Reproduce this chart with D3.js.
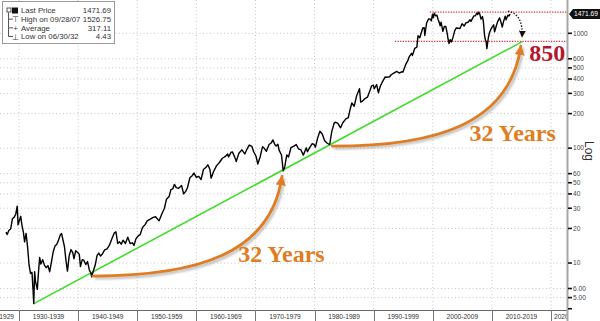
<!DOCTYPE html>
<html>
<head>
<meta charset="utf-8">
<script src="https://cdn.jsdelivr.net/npm/d3@7/dist/d3.min.js"></script>
<style>
  body { margin:0; background:#fff; }
  svg { display:block; }
</style>
</head>
<body>
<div id="chart"></div>
<script>
// S&P 500 monthly-ish closes (log scale)
const dates = [1927.8,1928.0,1928.3,1928.6,1928.9,1929.2,1929.45,1929.7,1929.85,1930.0,1930.3,1930.5,1930.75,1930.95,
  1931.2,1931.45,1931.7,1931.95,1932.2,1932.4,1932.5,1932.65,1932.8,1933.1,1933.3,1933.5,1933.7,1934.0,1934.3,1934.6,
  1934.9,1935.2,1935.5,1935.8,1936.1,1936.4,1936.7,1937.0,1937.2,1937.5,1937.7,1937.95,1938.2,1938.5,1938.8,1939.1,
  1939.3,1939.6,1939.9,1940.2,1940.4,1940.7,1940.95,1941.3,1941.6,1941.9,1942.15,1942.3,1942.6,1942.9,1943.2,1943.5,
  1943.8,1944.1,1944.5,1944.9,1945.3,1945.7,1946.1,1946.4,1946.7,1947.0,1947.3,1947.6,1948.0,1948.4,1948.8,1949.2,
  1949.45,1949.8,1950.2,1950.5,1950.9,1951.3,1951.7,1952.2,1952.7,1953.1,1953.7,1954.2,1954.6,1954.95,1955.4,1955.7,
  1956.0,1956.3,1956.6,1957.0,1957.5,1957.85,1958.2,1958.5,1958.9,1959.3,1959.6,1960.0,1960.4,1960.8,1961.2,1961.6,
  1961.95,1962.3,1962.5,1962.9,1963.4,1963.9,1964.4,1964.9,1965.3,1965.45,1965.9,1966.1,1966.5,1966.75,1967.2,1967.7,
  1968.2,1968.6,1968.95,1969.4,1969.7,1970.1,1970.4,1970.8,1971.2,1971.5,1971.85,1972.3,1972.7,1972.95,1973.3,1973.5,
  1973.8,1974.0,1974.4,1974.7,1974.95,1975.3,1975.6,1976.0,1976.5,1976.9,1977.3,1977.7,1978.1,1978.6,1978.8,1979.2,
  1979.6,1979.9,1980.15,1980.5,1980.9,1981.3,1981.7,1982.1,1982.55,1982.9,1983.3,1983.5,1983.9,1984.4,1984.8,1985.3,
  1985.7,1985.95,1986.3,1986.7,1987.1,1987.6,1987.8,1988.1,1988.6,1988.95,1989.4,1989.65,1989.95,1990.1,1990.5,1990.8,
  1991.1,1991.5,1991.95,1992.3,1992.7,1992.95,1993.4,1993.9,1994.3,1994.8,1994.95,1995.4,1995.8,1995.95,1996.4,1996.55,
  1996.95,1997.3,1997.5,1997.8,1997.95,1998.3,1998.55,1998.65,1998.95,1999.3,1999.6,1999.75,1999.95,2000.1,2000.25,
  2000.45,2000.7,2000.9,2001.1,2001.25,2001.4,2001.7,2001.95,2002.2,2002.45,2002.55,2002.75,2002.95,2003.15,2003.4,
  2003.7,2003.95,2004.3,2004.6,2004.95,2005.3,2005.6,2005.95,2006.3,2006.45,2006.95,2007.2,2007.45,2007.6,2007.75,
  2007.95,2008.15,2008.4,2008.55,2008.75,2008.85,2009.05,2009.15,2009.4,2009.6,2009.95,2010.3,2010.45,2010.7,2010.95,
  2011.3,2011.6,2011.75,2011.95,2012.25,2012.4,2012.7,2012.85,2012.95,2013.05]
const closes = [18.6,17.7,19.3,19.8,24.3,25.1,26.6,31.3,21.5,22.8,25.5,21.4,18.5,15.3,
  18.1,13.9,9.7,8.1,8.3,5.6,4.43,8.4,6.9,5.9,8.3,11.2,9.8,10.7,9.6,9.1,
  9.5,8.4,10.3,12.6,14.1,14.6,15.9,17.6,18.1,15.4,13.8,10.5,8.5,11.6,13.1,12.3,
  10.9,12.8,12.4,11.9,9.3,10.7,10.6,9.7,10.3,8.7,8.2,7.6,8.6,9.6,11.6,12.2,
  11.5,12.0,13.0,13.3,14.3,16.2,18.2,18.7,14.8,15.3,14.6,15.8,14.8,16.8,14.8,15.0,
  14.2,16.3,17.3,17.7,20.4,21.5,23.3,24.1,25.0,25.3,23.3,27.0,30.0,35.9,37.9,43.5,
  44.2,48.4,45.4,44.7,47.4,40.0,42.1,45.2,55.2,57.6,60.7,55.6,56.9,53.4,65.1,67.8,
  71.6,65.2,54.8,62.3,70.1,75.0,81.7,84.8,89.1,84.1,92.4,92.9,83.6,76.6,90.2,96.7,
  89.1,98.7,106.5,103.5,93.1,85.0,72.7,84.3,103.0,99.8,93.9,107.7,111.6,118.1,106.9,104.3,
  108.4,96.1,87.3,63.5,68.6,87.3,83.9,100.9,104.3,107.5,98.4,96.5,87.0,100.7,93.2,101.6,
  109.3,107.9,102.1,121.7,140.5,132.8,116.2,111.0,107.1,138.5,164.4,168.1,164.9,150.6,167.4,180.0,
  184.1,211.3,247.4,231.3,284.2,329.8,251.8,257.1,272.0,277.7,320.5,349.2,353.4,329.1,358.0,304.0,
  343.9,380.2,417.1,415.0,418.7,435.7,450.2,466.5,450.9,462.7,459.3,533.4,581.5,615.9,669.1,639.9,
  740.7,757.1,954.3,914.6,970.4,1111.8,1120.7,957.3,1229.2,1335.2,1328.7,1282.7,1469.2,1366.4,1498.6,
  1420.6,1436.5,1320.3,1239.9,1160.3,1249.5,1040.9,1148.1,1147.4,989.8,911.6,815.3,879.8,841.2,916.9,
  1050.7,1111.9,1107.3,1101.7,1211.9,1156.9,1234.2,1248.3,1310.6,1270.2,1418.3,1420.9,1503.4,1455.3,1526.75,
  1468.4,1330.6,1400.4,1267.4,968.8,896.2,825.9,735.1,919.1,1020.6,1115.1,1186.7,1030.7,1141.2,1257.6,
  1363.6,1218.9,1131.4,1257.6,1408.5,1310.3,1440.7,1416.2,1426.2,1471.69]

const yTicks = [1000,600,500,400,300,200,100,60,50,40,30,20,10,6,5,4]
const yTickLabels = ["1000","600","500","400","300","200","100","60","50","40","30","20","10","6.00","5.00",""]
const decades = [1920,1930,1940,1950,1960,1970,1980,1990,2000,2010,2020]
const legendLabels = ["Last Price","High on 09/28/07","Average","Low on 06/30/32"]
const legendValues = ["1471.69","1526.75","317.11","4.43"]
const lastPrice = 1471.69
const highPrice = 1526.75
const targetPrice = 850

// trend line through the 1932 low, out to 850
const trendDates = [1932.5, 2015.2]
const trendValues = [4.43, 850]
// "32 Years" arrows: start / end in (year, value)
const arcStart = [[1942.5, 7.7], [1983.0, 104]]
const arcEnd = [[1974.5, 57], [2014.9, 775]]
const arcTextPos = [[1974.4, 10.2], [2013.5, 115]]
// dotted drop arrow from the last price toward 850
const dropArrow = [[2012.7, 1560], [2015.3, 1470], [2015.1, 930]]
const highLineStart = 1999.5
const lowLineStart = 1993.6

function render(){
  let width = 600, height = 321,
      plotRight = 567, plotBottom = 310

  let x = d3.scaleLinear().domain([1926.79, 2022.7]).range([0, plotRight])
  let y = d3.scaleLog().domain([3.9, 1950]).range([plotBottom, 0])

  let svg = d3.select("#chart").append("svg")
    .attr("width", width).attr("height", height)
    .attr("font-family", "'Liberation Sans', Arial, sans-serif")

  let defs = svg.append("defs")
  defs.append("clipPath").attr("id","plotclip").append("rect")
    .attr("x",0).attr("y",0).attr("width",plotRight).attr("height",height)
  defs.append("marker").attr("id","orangeHead")
    .attr("viewBox","0 0 10 10").attr("refX",9).attr("refY",5)
    .attr("markerWidth",3.6).attr("markerHeight",3.6).attr("markerUnits","strokeWidth")
    .attr("orient","auto")
    .append("path").attr("d","M0,0 L10,5 L0,10 Z").attr("fill","#e07c22")
  defs.append("marker").attr("id","blackHead")
    .attr("viewBox","0 0 10 10").attr("refX",9).attr("refY",5)
    .attr("markerWidth",5).attr("markerHeight",5).attr("markerUnits","strokeWidth")
    .attr("orient","auto")
    .append("path").attr("d","M0,0 L10,5 L0,10 Z").attr("fill","#111")
  defs.append("filter").attr("id","blur").append("feGaussianBlur").attr("stdDeviation",1.2)

  let g = svg.append("g").attr("clip-path","url(#plotclip)")

  // grid
  g.selectAll(".hgrid").data(yTicks.slice(0,-1)).enter().append("line")
    .attr("x1",0).attr("x2",plotRight)
    .attr("y1",d=>y(d)).attr("y2",d=>y(d))
    .attr("stroke","#c8c8c8").attr("stroke-width",1).attr("stroke-dasharray","1,2.5")
  g.selectAll(".vgrid").data(decades).enter().append("line")
    .attr("x1",d=>x(d)).attr("x2",d=>x(d))
    .attr("y1",0).attr("y2",plotBottom)
    .attr("stroke","#c8c8c8").attr("stroke-width",1).attr("stroke-dasharray","1,2.5")

  // bottom axis
  g.append("line").attr("x1",0).attr("x2",plotRight).attr("y1",plotBottom+0.5).attr("y2",plotBottom+0.5)
    .attr("stroke","#666").attr("stroke-width",1)
  g.selectAll(".sep").data(decades).enter().append("line")
    .attr("x1",d=>Math.round(x(d))+0.5).attr("x2",d=>Math.round(x(d))+0.5)
    .attr("y1",plotBottom).attr("y2",height)
    .attr("stroke","#777")
  g.selectAll(".xlab").data(decades).enter().append("text")
    .attr("x",(d,i)=> i==0 ? x(d+10)-5 : (d==2020 ? x(d)+3 : x(d+5)))
    .attr("y",318.5)
    .attr("text-anchor",(d,i)=> i==0 ? "end" : (d==2020 ? "start" : "middle"))
    .attr("font-size",6.6).attr("fill","#333")
    .text(d=> d + "-" + (d+9))

  // red dotted levels
  g.append("line").attr("x1",x(highLineStart)).attr("x2",plotRight)
    .attr("y1",y(highPrice)).attr("y2",y(highPrice))
    .attr("stroke","#d9343a").attr("stroke-width",1.3).attr("stroke-dasharray","1.3,1.3")
  g.append("line").attr("x1",x(lowLineStart)).attr("x2",plotRight)
    .attr("y1",y(targetPrice)).attr("y2",y(targetPrice))
    .attr("stroke","#d9343a").attr("stroke-width",1.3).attr("stroke-dasharray","1.3,1.3")

  // green trend
  g.append("line")
    .attr("x1",x(trendDates[0])).attr("y1",y(trendValues[0]))
    .attr("x2",x(trendDates[1])).attr("y2",y(trendValues[1]))
    .attr("stroke","#3fdc2a").attr("stroke-width",1.6)

  // price line
  let line = d3.line().x((d,i)=>x(dates[i])).y((d,i)=>y(closes[i]))
  g.append("path").attr("d",line(closes))
    .attr("fill","none").attr("stroke","#000").attr("stroke-width",1.4)
    .attr("stroke-linejoin","round")

  // orange arcs
  function arcPath(s, e, off){
    let x0 = x(s[0])+off, y0 = y(s[1])+off, x3 = x(e[0])+off, y3 = y(e[1])+off
    let dx = x3-x0, dy = y3-y0
    return `M${x0},${y0} C${x0+0.55*dx},${y0} ${x3-0.06*dx},${y0+0.22*dy} ${x3},${y3}`
  }
  arcStart.forEach((s,i)=>{
    g.append("path").attr("d",arcPath(s, arcEnd[i], 2))
      .attr("fill","none").attr("stroke","#9a9a9a").attr("stroke-width",3).attr("opacity",0.6)
      .attr("filter","url(#blur)")
    g.append("path").attr("d",arcPath(s, arcEnd[i], 0))
      .attr("fill","none").attr("stroke","#e07c22").attr("stroke-width",2.8)
      .attr("stroke-linecap","round").attr("marker-end","url(#orangeHead)")
    g.append("text").attr("x",x(arcTextPos[i][0])).attr("y",y(arcTextPos[i][1]))
      .attr("text-anchor","middle").attr("font-family","'Liberation Serif', 'Times New Roman', serif")
      .attr("font-weight","bold").attr("font-size",24).attr("fill","#e07c22")
      .text("32 Years")
  })

  // 850 label
  g.append("text").attr("x",x(2016.3)).attr("y",y(574))
    .attr("font-family","'Liberation Serif', 'Times New Roman', serif")
    .attr("font-weight","bold").attr("font-size",24).attr("fill","#b3182c")
    .text(String(targetPrice))

  // dotted drop arrow
  g.append("path")
    .attr("d",`M${x(dropArrow[0][0])},${y(dropArrow[0][1])} Q${x(dropArrow[1][0])},${y(dropArrow[1][1])} ${x(dropArrow[2][0])},${y(dropArrow[2][1])}`)
    .attr("fill","none").attr("stroke","#111").attr("stroke-width",1.4)
    .attr("stroke-dasharray","1.4,1.6").attr("marker-end","url(#blackHead)")

  // right axis
  svg.append("line").attr("x1",plotRight+0.5).attr("x2",plotRight+0.5).attr("y1",0).attr("y2",height)
    .attr("stroke","#a8a8a8").attr("stroke-width",2)
  svg.selectAll(".ytick").data(yTicks).enter().append("line")
    .attr("x1",plotRight+1).attr("x2",plotRight+5)
    .attr("y1",d=>y(d)).attr("y2",d=>y(d))
    .attr("stroke","#111").attr("stroke-width",1.6)
  svg.selectAll(".ylab").data(yTicks).enter().append("text")
    .attr("x",plotRight+6).attr("y",d=>y(d)+2.3)
    .attr("font-size",6.6).attr("fill","#444")
    .text((d,i)=>yTickLabels[i])

  // last price tag
  let ty = y(lastPrice)
  svg.append("path")
    .attr("d",`M${plotRight+2},${ty} L${plotRight+6},${ty-5} L600,${ty-5} L600,${ty+5} L${plotRight+6},${ty+5} Z`)
    .attr("fill","#111")
  svg.append("text").attr("x",plotRight+7).attr("y",ty+2.4)
    .attr("font-size",6.6).attr("fill","#fff").text(lastPrice.toFixed(2))

  // Log label
  svg.append("text").attr("transform","translate(585,141) rotate(90)")
    .attr("font-size",12).attr("fill","#333").text("Log")

  // legend
  let lg = svg.append("g")
  lg.append("rect").attr("x",2.5).attr("y",1.5).attr("width",112).attr("height",42)
    .attr("fill","#fff").attr("stroke","#999").attr("stroke-width",1)
  let rowY = d3.scaleLinear().domain([0,3]).range([10.5,36.5])
  lg.append("line").attr("x1",8.5).attr("x2",8.5).attr("y1",rowY(0)+2).attr("y2",rowY(3))
    .attr("stroke","#555")
  lg.selectAll(".br").data([1,2,3]).enter().append("line")
    .attr("x1",8.5).attr("x2",13).attr("y1",d=>rowY(d)).attr("y2",d=>rowY(d)).attr("stroke","#555")
  lg.append("rect").attr("x",12).attr("y",rowY(0)-3).attr("width",6).attr("height",6).attr("fill","#111")
  lg.append("rect").attr("x",7).attr("y",rowY(0)-2.5).attr("width",4).attr("height",4)
    .attr("fill","none").attr("stroke","#555")
  lg.append("text").attr("x",15.5).attr("y",rowY(1)+3).attr("text-anchor","middle").attr("font-size",8).attr("fill","#333").text("⊤")
  lg.append("text").attr("x",15.5).attr("y",rowY(2)+3).attr("text-anchor","middle").attr("font-size",8).attr("fill","#333").text("+")
  lg.append("text").attr("x",15.5).attr("y",rowY(3)+3).attr("text-anchor","middle").attr("font-size",8).attr("fill","#333").text("⊥")
  lg.selectAll(".ll").data(legendLabels).enter().append("text")
    .attr("x",21).attr("y",(d,i)=>rowY(i)+2.8)
    .attr("font-size",7.8).attr("fill","#333").text(d=>d)
  lg.selectAll(".lv").data(legendValues).enter().append("text")
    .attr("x",111).attr("y",(d,i)=>rowY(i)+2.8).attr("text-anchor","end")
    .attr("font-size",7.8).attr("fill","#333").text(d=>d)
}
render()
</script>
</body>
</html>
